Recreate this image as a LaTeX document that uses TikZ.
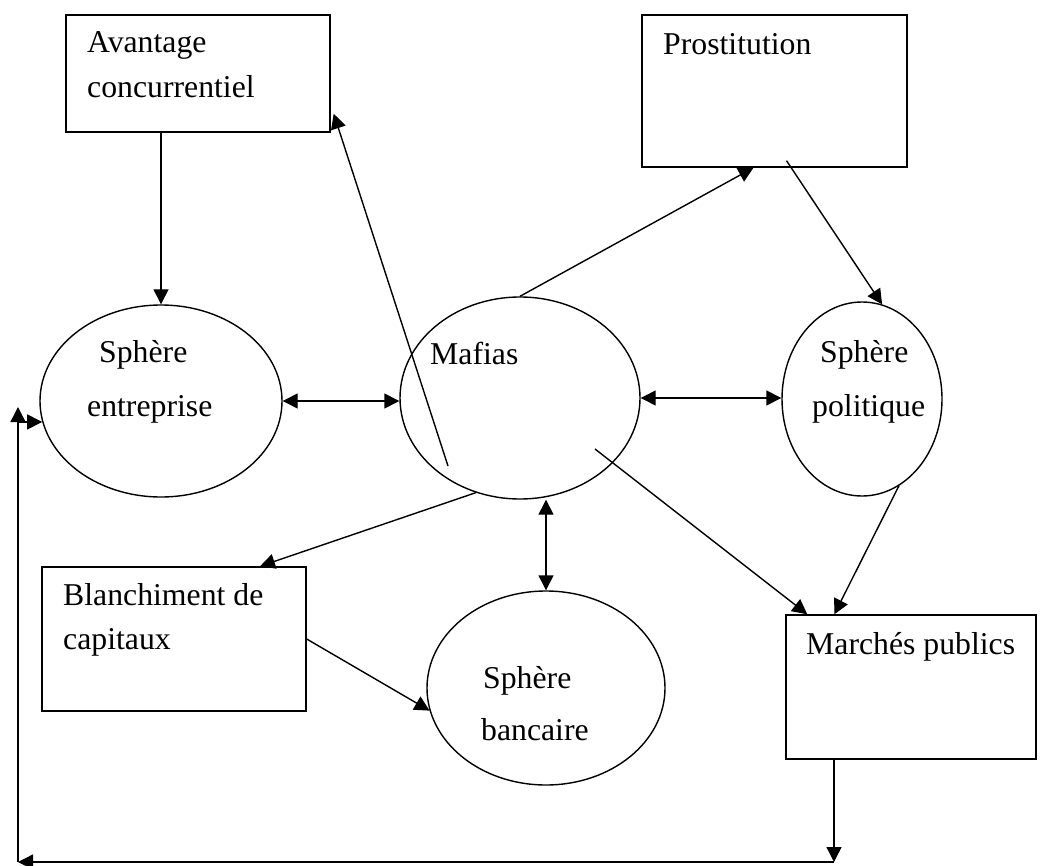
\documentclass[tikz,border=0pt]{standalone}
\usepackage{fontspec}
\setmainfont{Liberation Serif}
\usetikzlibrary{arrows.meta,shapes.geometric}

\tikzset{
  box/.style={draw, rectangle, line width=1.4pt, inner sep=0pt},
  bulle/.style={draw, ellipse, line width=1.4pt, inner sep=0pt},
  txt/.style={anchor=base west, inner sep=0pt, font=\fontsize{31.75}{40}\selectfont},
  fl/.style={line width=1.4pt, -{Triangle[length=15pt,width=15pt]}},
  dfl/.style={line width=1.4pt, {Triangle[length=15pt,width=15pt]}-{Triangle[length=15pt,width=15pt]}},
}

\begin{document}
\begin{tikzpicture}[x=1pt,y=-1pt]
        \useasboundingbox (0,0) rectangle (1040,866);

        % boites
        \node[box, minimum width=264, minimum height=117] (av) at (198,73.5) {};
        \node[txt] (avtxt) at (87,53) {Avantage};
        \node[txt] (avtxtb) at (87,98) {concurrentiel};

        \node[box, minimum width=265, minimum height=152] (pro) at (774.5,91) {};
        \node[txt] (protxt) at (663,55) {Prostitution};

        \node[box, minimum width=264, minimum height=144] (bla) at (174,639) {};
        \node[txt] (blatxt) at (63,605) {Blanchiment de};
        \node[txt] (blatxtb) at (63,649) {capitaux};

        \node[box, minimum width=250, minimum height=144] (mar) at (911,687) {};
        \node[txt] (martxt) at (806,654) {Marchés publics};

        % spheres
        \node[bulle, minimum width=242, minimum height=192] (ent) at (161,401) {};
        \node[txt] (enttxt) at (99,362) {Sphère};
        \node[txt] (enttxtb) at (87,416) {entreprise};

        \node[bulle, minimum width=240, minimum height=202] (maf) at (520,398) {};
        \node[txt] (maftxt) at (430,364) {Mafias};

        \node[bulle, minimum width=160, minimum height=194] (pol) at (862,399) {};
        \node[txt] (poltxt) at (820,362) {Sphère};
        \node[txt] (poltxtb) at (812,416) {politique};

        \node[bulle, minimum width=238, minimum height=194] (ban) at (546,688) {};
        \node[txt] (bantxt) at (483,688) {Sphère};
        \node[txt] (bantxtb) at (481,740) {bancaire};

        % fleches
        \draw[fl] (ent.north |- av.south) -- (ent.north);
        \draw[fl] ([shift={(-72,68)}]maf.center) -- ([shift={(3,-19)}]av.south east);
        \draw[fl] (maf.north) -- ([shift={(-21,0)}]pro.south);
        \draw[fl] ([shift={(12,-7)}]pro.south) -- (pol.78);
        \draw[dfl] (ent.east) -- (ent.east -| maf.west);
        \draw[dfl] (maf.east) -- (maf.east -| pol.west);
        \draw[fl] (maf.245) -- ([shift={(86,0)}]bla.north);
        \draw[dfl] (ban.north |- maf.south) -- (ban.north);
        \draw[fl] (bla.east) -- (ban.191);
        \draw[fl] ([shift={(75,51)}]maf.center) -- ([shift={(22,0)}]mar.north west);
        \draw[fl] (pol.293) -- ([shift={(49,0)}]mar.north west);

        % retour vers la sphere entreprise
        \coordinate (c1) at (834,862);
        \coordinate (c2) at (18,862);
        \coordinate (c3) at (18,407);
        \draw[fl] (mar.south west -| c1) -- (c1);
        \draw[fl] (c1) -- (c2);
        \draw[fl] (c2) -- (c3);
        \draw[fl] (c3 |- ent.190) -- (ent.190);
    \end{tikzpicture}
\end{document}
